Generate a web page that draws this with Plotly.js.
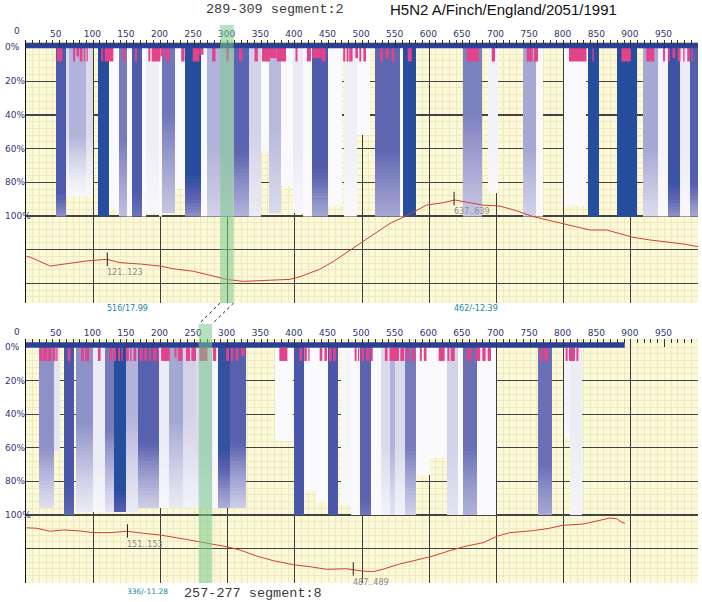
<!DOCTYPE html>
<html><head><meta charset="utf-8">
<script src="https://cdn.plot.ly/plotly-3.0.1.min.js"></script>
<style>html,body{margin:0;padding:0;background:#fff}#chart{width:702px;height:602px}</style>
</head><body><div id="chart"></div>
<script>
// ---------------- data ----------------
const strainName = 'H5N2 A/Finch/England/2051/1991';
const topSegment = 2, bottomSegment = 8;
const topSegLen = 1000, bottomSegLen = 891;
const topWindow = [289, 309];
const bottomWindow = [257, 277];
const positionTicks = [0,50,100,150,200,250,300,350,400,450,500,550,600,650,700,750,800,850,900,950];
const depthTicks = [0,20,40,60,80,100];
const depthLabels = ['0%','20%','40%','60%','80%','100%'];

// bands: [start, end, topLevel, bottomLevel, fadeFrom(%), depth(%)]
const topBands = [
 [45,60,0.85,0.6,85,100],[60,64,0.25,0.04,50,89],[64,89,0.45,0.03,52,89],[89,99,0.25,0.04,50,89],
 [107,123,1,1,100,100],[123,139,0.03,0.03,100,96],[139,151,0.68,0.4,55,100],[151,158,0.03,0.03,100,100],
 [158,173,0.84,0.7,85,100],[173,179,0.03,0.03,100,100],[179,198,0.13,0.05,60,98],[198,203,0.03,0.03,100,100],
 [203,221,0.7,0.35,40,99],[221,236,0.03,0.03,100,84],[237,260,1,0.6,75,100],[260,270,0.03,0.03,100,100],
 [270,289,0.45,0.3,60,100],[289,310,0.45,0.3,60,100],[310,332,0.78,0.45,60,100],[332,350,0.3,0.15,50,100],
 [350,362,0.03,0.03,100,62],[362,380,0.42,0.25,50,99],[380,398,0.03,0.03,100,82],[398,412,0.16,0.05,60,99],
 [412,425,0.03,0.03,100,100],[425,449,0.84,0.5,70,100],[449,470,0.03,0.03,100,95],[473,492,0.12,0.03,60,100],
 [492,512,0.03,0.03,100,52],[519,557,0.76,0.5,60,100],[557,561,0.03,0.03,100,100],[561,581,1,1,100,100],
 [651,678,0.66,0.35,40,100],[688,703,0.1,0.05,50,86],[740,759,0.5,0.3,60,100],[759,770,0.03,0.03,100,100],
 [800,834,0.03,0.03,100,95],[836,853,1,1,100,100],[880,909,1,1,100,100],[918,941,0.5,0.25,60,100],
 [941,956,0.08,0.03,60,100],[956,973,0.92,0.6,80,100],[973,988,0.15,0.05,60,100],[988,1000,0.82,0.5,80,100]
];
const bottomBands = [
 [20,42,0.6,0.22,60,96],[42,50,0.2,0.2,100,62],[57,72,0.86,0.75,85,100],[74,99,0.6,0.15,45,98],
 [100,117,0.15,0.05,70,98],[117,131,0.68,0.2,50,98],[131,149,1,0.8,85,98],[149,166,0.45,0.15,40,98],
 [166,198,0.8,0.3,55,97],[198,213,0.15,0.05,60,97],[213,233,0.5,0.15,45,97],[233,253,0.3,0.1,40,97],
 [253,277,0.25,0.1,60,97],[277,285,0.05,0.03,60,97],[285,303,0.95,0.45,60,97],[303,327,0.8,0.3,55,97],
 [370,397,0.03,0.03,100,57],[399,414,0.86,0.86,100,100],[414,432,0.03,0.03,100,87],[432,449,0.03,0.03,100,93],
 [449,464,0.86,0.86,100,100],[469,484,0.06,0.04,60,95],[484,497,0.03,0.03,100,100],[497,514,0.78,0.7,90,100],
 [514,529,0.03,0.03,100,100],[529,542,0.25,0.1,60,100],[542,549,0.45,0.2,60,100],[549,564,0.25,0.1,60,100],
 [564,581,0.68,0.3,60,100],[581,601,0.03,0.03,100,77],[601,626,0.03,0.03,100,67],[626,643,0.3,0.2,60,100],
 [643,651,0.03,0.03,100,100],[651,671,0.72,0.45,60,100],[671,700,0.03,0.03,100,100],[762,782,0.72,0.5,70,100],
 [800,809,0.1,0.05,40,55],[809,827,0.15,0.08,50,100]
];

// pink site marks: [start, end, length(%)]
const topMarks = [
 [46,54,8],[70,73,8],[75,79,5],[80,84,8],[86,88,8],[90,92,8],[112,115,8],[117,130,8],[144,148,8],[162,165,8],
 [182,185,8],[187,200,8],[200,206,5],[208,214,8],[231,236,8],[248,258,8],[258,264,4],[277,282,8],[298,302,8],
 [317,322,8],[340,345,8],[351,363,8],[363,373,6],[373,387,8],[401,404,8],[418,424,8],[426,440,6],[440,446,8],
 [472,475,8],[477,480,8],[481,486,8],[490,494,6],[496,499,8],[502,506,8],[527,531,8],[535,540,6],[544,548,8],
 [568,574,8],[656,674,8],[693,698,8],[745,754,8],[756,762,8],[808,834,8],[843,845,8],[886,900,8],[923,935,8],
 [948,951,8],[955,958,8],[962,966,6],[970,974,8],[978,980,8],[984,988,8],[990,992,8]
];
const bottomMarks = [
 [20,24,8],[25,32,8],[33,38,8],[40,44,8],[45,47,8],[62,66,8],[82,86,8],[88,94,8],[107,111,8],[124,128,8],
 [130,134,8],[137,140,8],[142,144,8],[149,153,8],[155,157,8],[160,164,8],[169,174,8],[176,180,8],[183,186,8],
 [189,194,8],[196,198,8],[201,214,8],[221,224,6],[226,233,8],[238,244,8],[246,253,8],[258,270,8],[278,283,8],
 [298,302,8],[305,308,8],[312,316,8],[320,326,5],[377,389,8],[407,411,8],[414,418,8],[420,422,8],[437,441,8],
 [444,448,8],[451,455,8],[457,461,8],[489,492,8],[494,496,8],[499,503,8],[506,511,8],[513,516,8],[534,538,8],
 [541,555,8],[557,563,8],[566,570,8],[574,579,8],[586,589,8],[592,596,8],[614,623,8],[627,630,8],[632,638,8],
 [656,663,8],[669,676,8],[679,684,8],[687,692,8],[765,769,8],[771,777,8],[803,806,8],[808,817,8],[819,822,8]
];

// profile curves (position, value on the depth scale)
const topProfilePos = [1,5,36,60,90,120,140,170,199,219,249,274,298,323,358,393,408,437,457,482,512,542,571,596,621,638,661,681,705,730,755,790,814,839,864,903,928,958,978,1000];
const topProfileVal = [124.2,124.2,129.7,128.5,126.7,125.7,127.7,128.5,129.7,131.3,132.8,135.2,137.6,138.8,138.0,137.6,136.0,131.6,127.1,120.6,112.3,104.3,99.0,93.5,92.1,90.5,92.1,93.6,94.1,96.9,100.4,103.6,105.9,108.3,108.3,112.6,114.2,115.4,116.6,118.2];
const bottomProfilePos = [1,16,36,56,80,100,125,150,175,199,224,249,274,299,318,343,368,398,423,447,477,497,516,531,556,581,606,630,655,680,702,720,755,779,799,829,849,869,879,886,891];
const bottomProfileVal = [107.6,107.9,109.7,108.9,109.5,110.5,110.5,109.7,110.9,111.9,113.5,115.3,117.3,118.9,120.8,124.4,127.2,129.6,130.8,132.3,132.0,133.2,133.8,132.3,129.2,126.8,124.4,121.3,118.5,116.5,112.5,110.5,109.3,107.9,106.1,105.4,103.4,101.8,102.2,104.2,105.0];

// highlighted positions
const topPeakPos = [121, 637];
const topPeakVal = [125.7, 89.6];
const topPeakText = ['121..123', '637..639'];
const topPeakScore = ['516/17.99', '462/-12.39'];
const bottomPeakPos = [151, 487];
const bottomPeakVal = [109.5, 132.1];
const bottomPeakText = ['151..153', '487..489'];
const bottomPeakScore = ['336/-11.28', ''];

// ---------------- helpers ----------------
const W = 702, H = 602, ML = 26, MR = 4;
const PW = W - ML - MR;
const py = p => 1 - p / H;           // pixel row -> paper y
const px = p => (p - ML) / PW;       // pixel col -> paper x

function bandGrid(bands) {
  const xs = [], ys = [], z = [];
  for (let i = 0; i < 1000; i++) xs.push(i + 0.5);
  for (let j = 0; j < 50; j++) ys.push(j * 2 + 1);
  for (let j = 0; j < ys.length; j++) {
    const d = ys[j], row = [];
    for (let i = 0; i < xs.length; i++) {
      const x = xs[i]; let v = null;
      for (const b of bands) {
        if (x >= b[0] && x < b[1]) {
          if (d < b[5]) {
            v = d <= b[4] ? b[2] : b[2] + (b[3] - b[2]) * (d - b[4]) / Math.max(1, b[5] - b[4]);
          }
          break;
        }
      }
      row.push(v);
    }
    z.push(row);
  }
  return {xs, ys, z};
}
const blueScale = [[0,'#fdfdff'],[0.15,'#ececf6'],[0.3,'#d2d2e9'],[0.45,'#b2b3da'],[0.6,'#8e91c8'],[0.75,'#6168b2'],[0.88,'#4755a8'],[1,'#274e9e']];

function bandTrace(bands, xa, ya) {
  const g = bandGrid(bands);
  return {type:'heatmap', x:g.xs, y:g.ys, z:g.z, xaxis:xa, yaxis:ya, colorscale:blueScale,
    zmin:0, zmax:1, showscale:false, zsmooth:false, hoverinfo:'skip'};
}
function markTrace(marks, xa, ya) {
  return {type:'bar', x:marks.map(m => (m[0]+m[1])/2), width:marks.map(m => m[1]-m[0]),
    y:marks.map(m => m[2]), base:0.3, xaxis:xa, yaxis:ya,
    marker:{color:'#e2438b', line:{width:0}}, hoverinfo:'skip', showlegend:false};
}
function segBar(len, xa, ya) {
  return {type:'scatter', mode:'lines', x:[0, len], y:[-1.2, -1.2], xaxis:xa, yaxis:ya,
    line:{color:'#2b3f97', width:5.5}, hoverinfo:'skip', showlegend:false};
}
function profTrace(pos, val, xa, ya) {
  return {type:'scatter', mode:'lines', x:pos, y:val, xaxis:xa, yaxis:ya,
    line:{color:'#d2402e', width:1}, hoverinfo:'skip', showlegend:false};
}
function peakTrace(pos, val, xa, ya) {
  const x = [], y = [];
  pos.forEach((p, i) => { x.push(p, p, null); y.push(val[i] - 4, val[i] + 4, null); });
  return {type:'scatter', mode:'lines', x, y, xaxis:xa, yaxis:ya,
    line:{color:'#222', width:1}, hoverinfo:'skip', showlegend:false};
}
function anchorTrace(xa, ya) {   // invisible trace so the overlaid tick-label axis is drawn
  return {type:'scatter', mode:'markers', x:[0, 1000], y:[-500, -500], xaxis:xa, yaxis:ya,
    marker:{opacity:0, size:1}, hoverinfo:'skip', showlegend:false, cliponaxis:true};
}

const data = [
  bandTrace(topBands, 'x', 'y'),
  markTrace(topMarks, 'x', 'y'),
  segBar(topSegLen, 'x', 'y'),
  profTrace(topProfilePos, topProfileVal, 'x', 'y'),
  peakTrace(topPeakPos, topPeakVal, 'x', 'y'),
  anchorTrace('x2', 'y'),
  bandTrace(bottomBands, 'x3', 'y2'),
  markTrace(bottomMarks, 'x3', 'y2'),
  segBar(bottomSegLen, 'x3', 'y2'),
  profTrace(bottomProfilePos, bottomProfileVal, 'x3', 'y2'),
  peakTrace(bottomPeakPos, bottomPeakVal, 'x3', 'y2'),
  anchorTrace('x4', 'y2')
];

const gridDark = '#3c3c3c', gridLight = '#efe9c0';
function gridAxis(anchor) {
  return {domain:[0,1], range:[0,1000], anchor, showgrid:true, gridcolor:gridDark, gridwidth:1,
    tickmode:'linear', tick0:0, dtick:100, showticklabels:false, ticks:'', zeroline:false, showline:false,
    minor:{tickmode:'linear', tick0:0, dtick:10, showgrid:true, gridcolor:gridLight, gridwidth:1, ticks:''},
    fixedrange:true};
}
function labelAxis(over, anchor) {
  return {overlaying:over, anchor, side:'top', range:[0,1000], tickmode:'array', tickvals:positionTicks,
    ticktext:positionTicks.map(v => v === 0 ? '' : String(v)), ticks:'inside', ticklen:8, tickcolor:'#333', tickwidth:1,
    ticklabelposition:'outside right', ticklabelshift:-10,
    tickfont:{family:'DejaVu Sans', size:9, color:'#33336e'}, showgrid:false, zeroline:false, showline:false,
    minor:{tickmode:'linear', tick0:0, dtick:10, ticks:'inside', ticklen:4, tickcolor:'#333', showgrid:false},
    fixedrange:true};
}
function depthAxis(dom, range, vals, anchor) {
  return {domain:dom, range, anchor, tickmode:'array', tickvals:vals, showticklabels:false, ticks:'',
    showgrid:true, gridcolor:'#444', gridwidth:1.3, zeroline:false, showline:true, linecolor:'#111', linewidth:1,
    minor:{tickmode:'linear', tick0:0, dtick:4, showgrid:true, gridcolor:gridLight, gridwidth:1, ticks:''},
    fixedrange:true};
}

const topDom = [py(303), py(40)];
const botDom = [py(583), py(339)];
const layout = {
  width:W, height:H, margin:{l:ML, r:MR, t:0, b:0}, showlegend:false,
  paper_bgcolor:'#ffffff', plot_bgcolor:'#fcf9d8', barmode:'overlay',
  font:{family:'DejaVu Sans', size:9, color:'#333'},
  xaxis: gridAxis('y'),
  xaxis2: labelAxis('x', 'y'),
  xaxis3: gridAxis('y2'),
  xaxis4: labelAxis('x3', 'y2'),
  yaxis: depthAxis(topDom, [(303-47.5)/1.685, (40-47.5)/1.685], [20,40,60,80,100,120,140], 'x'),
  yaxis2: depthAxis(botDom, [(583-347)/1.68, (339-347)/1.68], [20,40,60,80,100,120], 'x3'),
  shapes: [], annotations: []
};

// highlighted windows and connectors
const green = 'rgba(120,200,140,0.55)';
layout.shapes.push({type:'rect', xref:'x', yref:'paper', x0:topWindow[0], x1:topWindow[1], y0:py(303), y1:py(25), fillcolor:green, line:{width:0}, layer:'above'});
layout.shapes.push({type:'rect', xref:'x3', yref:'paper', x0:bottomWindow[0], x1:bottomWindow[1], y0:py(583), y1:py(324), fillcolor:green, line:{width:0}, layer:'above'});
for (let k = 0; k < 2; k++) {
  layout.shapes.push({type:'line', xref:'x', yref:'paper', x0:topWindow[k], x1:bottomWindow[k], y0:py(303), y1:py(324), line:{color:'#222', width:1, dash:'dot'}, layer:'above'});
}

// depth labels (left aligned)
['y', 'y2'].forEach(ya => {
  depthTicks.forEach((v, i) => layout.annotations.push({xref:'paper', yref:ya, x:px(3), y:v, xanchor:'left', yanchor:'middle',
    text:depthLabels[i], showarrow:false, font:{family:'DejaVu Sans', size:9, color:'#33337a'}}));
});
// first position label "0": anchored to the position axis at 0, shifted left of the axis line
[['x', 31], ['x3', 332]].forEach(([xa, row]) => layout.annotations.push({xref:xa, yref:'paper', x:positionTicks[0], y:py(row),
  xanchor:'right', yanchor:'middle', xshift:-4, text:String(positionTicks[0]), showarrow:false,
  font:{family:'DejaVu Sans', size:9, color:'#33336e'}}));

// peak labels
function peakLabels(pos, val, txt, score, xa, ya, scoreRow) {
  pos.forEach((p, i) => {
    layout.annotations.push({xref:xa, yref:ya, x:p, y:val[i] + 4, xanchor:'left', yanchor:'top', xshift:-2,
      text:txt[i], showarrow:false, font:{family:'DejaVu Sans', size:8, color:'#8a8a8a'}});
    if (score[i]) layout.annotations.push({xref:xa, yref:'paper', x:p, y:py(scoreRow), xanchor:'left', yanchor:'middle', xshift:-2,
      text:score[i], showarrow:false, font:{family:'DejaVu Sans', size:scoreRow > 400 ? 7.5 : 8, color:'#23879a'}});
  });
}
peakLabels(topPeakPos, topPeakVal, topPeakText, topPeakScore, 'x', 'y', 308);
peakLabels(bottomPeakPos, bottomPeakVal, bottomPeakText, bottomPeakScore, 'x3', 'y2', 591);

// titles
layout.annotations.push({xref:'paper', yref:'paper', x:px(204), y:py(10), xanchor:'left', yanchor:'middle', showarrow:false,
  text:topWindow[0] + '-' + topWindow[1] + ' segment:' + topSegment, font:{family:'Liberation Mono', size:13.5, color:'#3a3a3a'}});
layout.annotations.push({xref:'paper', yref:'paper', x:px(388), y:py(10), xanchor:'left', yanchor:'middle', showarrow:false,
  text:strainName, font:{family:'Liberation Sans', size:15, color:'#111'}});
layout.annotations.push({xref:'paper', yref:'paper', x:px(182), y:py(593), xanchor:'left', yanchor:'middle', showarrow:false,
  text:bottomWindow[0] + '-' + bottomWindow[1] + ' segment:' + bottomSegment, font:{family:'Liberation Mono', size:13.5, color:'#3a3a3a'}});

Plotly.newPlot('chart', data, layout, {displayModeBar:false, staticPlot:true});
</script>
</body></html>
